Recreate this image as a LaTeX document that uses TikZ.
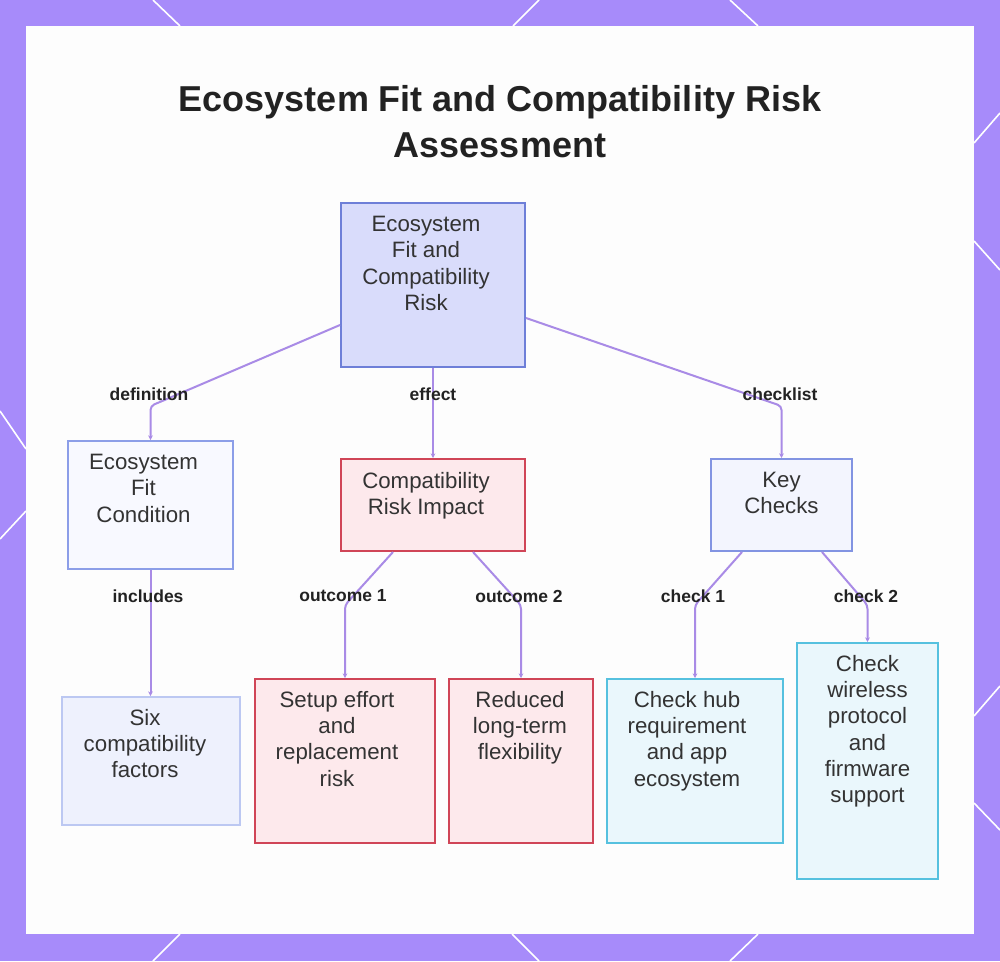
\documentclass[tikz,border=0pt]{standalone}
\usepackage{fontspec}
\setmainfont{Liberation Sans}
\usetikzlibrary{arrows.meta,calc}
\definecolor{bgpurple}{HTML}{A78BFA}
\definecolor{panelwhite}{HTML}{FDFDFD}
\definecolor{edgecol}{HTML}{A98BE6}
\definecolor{textdark}{HTML}{333333}
\definecolor{titledark}{HTML}{222222}
\definecolor{rootfill}{HTML}{D9DCFB}
\definecolor{rootdraw}{HTML}{6E7FD8}
\definecolor{efcfill}{HTML}{F8F9FF}
\definecolor{efcdraw}{HTML}{8C9EE8}
\definecolor{sixfill}{HTML}{EEF1FD}
\definecolor{sixdraw}{HTML}{BCC8F2}
\definecolor{redfill}{HTML}{FDE9EC}
\definecolor{reddraw}{HTML}{D04557}
\definecolor{kcfill}{HTML}{F3F5FE}
\definecolor{kcdraw}{HTML}{8294E2}
\definecolor{cyanfill}{HTML}{EAF7FC}
\definecolor{cyandraw}{HTML}{56C1DF}
\def\pxu{*0.75pt}
\tikzset{
  boxnode/.style={rectangle, line width=1.5pt, inner sep=0pt},
  txt/.style={anchor=north, align=center, inner sep=0pt, text=textdark,
    font=\fontsize{16.7pt}{19.7pt}\selectfont},
  lbl/.style={inner sep=0pt, text=titledark, font=\bfseries\fontsize{13.1pt}{15pt}\selectfont},
  edge/.style={draw=edgecol, line width=1.5pt, rounded corners=3pt,
    -{Stealth[length=3.5pt,width=3.5pt]}},
  border/.style={draw=white, line width=1.2pt}
}
\begin{document}
\begin{tikzpicture}[x=0.75pt,y=-0.75pt]
\useasboundingbox (0,0) rectangle (1000,961);
\fill[bgpurple] (0,0) rectangle (1000,961);
% decorative white lines on the frame
\draw[border] (153,0) -- (180,26);
\draw[border] (539,0) -- (513,26);
\draw[border] (730,0) -- (758,26);
\draw[border] (180,934) -- (153,961);
\draw[border] (512,934) -- (539,961);
\draw[border] (758,934) -- (730,961);
\draw[border] (0,411) -- (26,449);
\draw[border] (26,511) -- (0,539);
\draw[border] (974,143) -- (1000,113);
\draw[border] (974,241) -- (1000,270);
\draw[border] (974,716) -- (1000,686);
\draw[border] (974,803) -- (1000,830);
\fill[panelwhite] (26,26) rectangle (974,934);

% title
\node[anchor=north, align=center, inner sep=0pt, text=titledark,
  font=\bfseries\fontsize{27pt}{34.5pt}\selectfont] (title) at (500,85)
  {Ecosystem Fit and Compatibility Risk\\Assessment};

% boxes
\node[boxnode, fill=rootfill, draw=rootdraw, minimum width=184\pxu, minimum height=164\pxu] (root) at (433,285) {};
\node[boxnode, fill=efcfill, draw=efcdraw, minimum width=165\pxu, minimum height=128\pxu] (efc) at (150.5,505) {};
\node[boxnode, fill=sixfill, draw=sixdraw, minimum width=178\pxu, minimum height=128\pxu] (six) at (151,761) {};
\node[boxnode, fill=redfill, draw=reddraw, minimum width=184\pxu, minimum height=92\pxu] (cri) at (433,505) {};
\node[boxnode, fill=redfill, draw=reddraw, minimum width=180\pxu, minimum height=164\pxu] (setup) at (345,761) {};
\node[boxnode, fill=redfill, draw=reddraw, minimum width=144\pxu, minimum height=164\pxu] (reduced) at (521,761) {};
\node[boxnode, fill=kcfill, draw=kcdraw, minimum width=141\pxu, minimum height=92\pxu] (kc) at (781.5,505) {};
\node[boxnode, fill=cyanfill, draw=cyandraw, minimum width=176\pxu, minimum height=164\pxu] (hub) at (695,761) {};
\node[boxnode, fill=cyanfill, draw=cyandraw, minimum width=141\pxu, minimum height=236\pxu] (wireless) at (867.5,761) {};

% texts
\node[txt] (roott) at ($(root.north)+(-7,14)$) {Ecosystem\\Fit and\\Compatibility\\Risk};
\node[txt] (efct) at ($(efc.north)+(-7,14)$) {Ecosystem\\Fit\\Condition};
\node[txt] (sixt) at ($(six.north)+(-6,13)$) {Six\\compatibility\\factors};
\node[txt] (crit) at ($(cri.north)+(-7,14)$) {Compatibility\\Risk Impact};
\node[txt] (setupt) at ($(setup.north)+(-8,13)$) {Setup effort\\and\\replacement\\risk};
\node[txt] (reducedt) at ($(reduced.north)+(-1,13)$) {Reduced\\long-term\\flexibility};
\node[txt] (kct) at ($(kc.north)+(0,14)$) {Key\\Checks};
\node[txt] (hubt) at ($(hub.north)+(-8,13)$) {Check hub\\requirement\\and app\\ecosystem};
\node[txt] (wirelesst) at ($(wireless.north)+(0,13)$) {Check\\wireless\\protocol\\and\\firmware\\support};

% bend points
\coordinate (b1) at (150.5,406);
\coordinate (b3) at (781.5,406);
\coordinate (b5) at (345,605);
\coordinate (b6) at (521,605);
\coordinate (b7) at (695,605);
\coordinate (b8) at (867.5,605);

% connectors
\draw[edge] ($(root.west)+(0,40)$) -- (b1) -- (efc.north);
\draw[edge] (root.south) -- (cri.north);
\draw[edge] ($(root.east)+(0,33)$) -- (b3) -- (kc.north);
\draw[edge] (efc.south) -- (efc.south |- six.north);
\draw[edge] ($(cri.south)+(-40,0)$) -- (b5) -- (setup.north);
\draw[edge] ($(cri.south)+(40,0)$) -- (b6) -- (reduced.north);
\draw[edge] ($(kc.south)+(-39.5,0)$) -- (b7) -- (hub.north);
\draw[edge] ($(kc.south)+(40.5,0)$) -- (b8) -- (wireless.north);

% edge labels
\node[lbl] (l1) at (149,394) {definition};
\node[lbl] (l2) at (433,394) {effect};
\node[lbl] (l3) at (780,394) {checklist};
\node[lbl] (l4) at (148,596) {includes};
\node[lbl] (l5) at (343,596) {outcome 1};
\node[lbl] (l6) at (519,596) {outcome 2};
\node[lbl] (l7) at (693,596) {check 1};
\node[lbl] (l8) at (866,596) {check 2};
\end{tikzpicture}
\end{document}
